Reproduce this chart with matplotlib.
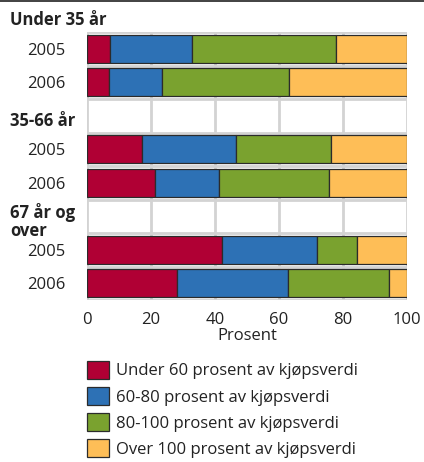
import matplotlib
matplotlib.use("Agg")
import matplotlib.pyplot as plt
from matplotlib.lines import Line2D

plt.rcParams['font.family'] = ['Open Sans', 'DejaVu Sans']

# Shares of dwelling loans by loan-to-value band (percent)
groups = ["Under 35 år", "35-66 år", "67 år og\nover"]
years = ["2005", "2006"]
series_names = [
    "Under 60 prosent av kjøpsverdi",
    "60-80 prosent av kjøpsverdi",
    "80-100 prosent av kjøpsverdi",
    "Over 100 prosent av kjøpsverdi",
]
under_60 = [7.2, 7.1, 17.2, 21.5, 42.3, 28.3]
band_60_80 = [25.6, 16.3, 29.3, 19.8, 29.5, 34.4]
band_80_100 = [44.9, 39.6, 29.8, 34.4, 12.4, 31.6]
over_100 = [22.3, 37.0, 23.7, 24.3, 15.8, 5.7]
x_ticks = [0, 20, 40, 60, 80, 100]

colors = ["#B00034", "#2D71B5", "#7AA22F", "#FEBE57"]
series = [under_60, band_60_80, band_80_100, over_100]

W, H = 424, 462
fig = plt.figure(figsize=(W / 100, H / 100), dpi=100)
ax = fig.add_axes([86.5 / W, 1 - 300 / H, (407.3 - 86.5) / W, (300 - 32) / H])

# Row layout: each group is a header row followed by one row per year;
# the first header sits above the plotting area.
bar_rows = []
header_rows = []
row = -1
for g in groups:
    header_rows.append(row)
    row += 1
    for y in years:
        bar_rows.append(row)
        row += 1
n_rows = row

left = [0.0] * len(bar_rows)
handles = []
for vals, col, name in zip(series, colors, series_names):
    b = ax.barh(bar_rows, vals, left=left, height=0.83, color=col,
                edgecolor="#2b2b2b", linewidth=0.9, label=name, zorder=3)
    handles.append(b)
    left = [l + v for l, v in zip(left, vals)]

ax.set_xlim(0, 100)
ax.set_ylim(n_rows - 0.5, -0.5)
ax.set_xticks(x_ticks)
ax.set_xticklabels([str(t) for t in x_ticks])
ax.set_yticks(bar_rows)
ax.set_yticklabels(years * len(groups))

# Grid: vertical lines at each tick, horizontal lines between rows
for t in x_ticks:
    ax.axvline(t, color="#d3d3d3", linewidth=2.0, zorder=1)
for k in range(n_rows + 1):
    ax.axhline(k - 0.5, color="#d3d3d3", linewidth=2.0, zorder=1)

for s in ax.spines.values():
    s.set_visible(False)
ax.tick_params(axis="both", length=0, labelsize=12, colors="#222222")
ax.tick_params(axis="y", pad=15)
ax.tick_params(axis="x", pad=8.5)
ax.set_xlabel("Prosent", fontsize=12, color="#222222", labelpad=0)

for g, r in zip(groups, header_rows):
    ax.text(-0.238, r + 0.15, g, transform=ax.get_yaxis_transform(),
            ha="left", va="center", fontsize=12, fontweight="bold",
            color="#222222", linespacing=1.0, clip_on=False)

# Rule across the top of the figure
fig.add_artist(Line2D([0, 1], [1 - 1.2 / H, 1 - 1.2 / H],
                      transform=fig.transFigure, color="#333333", linewidth=1.3))

fig.legend(handles=handles, loc="upper left",
           bbox_to_anchor=(80 / W, 1 - 354 / H), frameon=False,
           fontsize=12, handlelength=1.32, handleheight=1.3,
           handletextpad=0.42, labelspacing=0.45, borderaxespad=0,
           labelcolor="#222222")

fig.savefig("out.png", dpi=100)
